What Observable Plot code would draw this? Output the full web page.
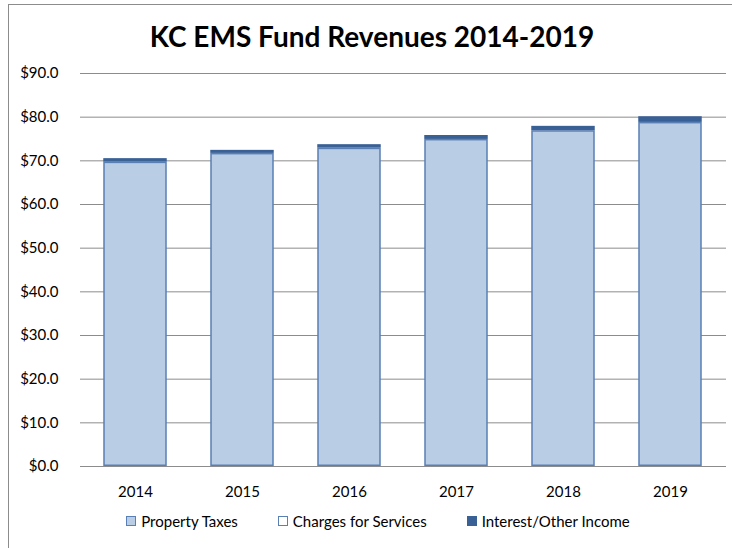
<!DOCTYPE html>
<html><head><meta charset="utf-8">
<script src="https://cdn.jsdelivr.net/npm/d3@7"></script>
<script src="https://cdn.jsdelivr.net/npm/@observablehq/plot@0.6"></script>
<style>
body{margin:0;background:#fff;font-family:Lato,"Open Sans",sans-serif;}
#wrap{position:relative;width:732px;height:548px;overflow:hidden;}
#frame{position:absolute;left:8px;top:4px;width:740px;height:600px;border:1px solid #8c8c8c;box-sizing:border-box;}
#title{position:absolute;left:0;top:19px;width:732px;text-align:center;font-weight:bold;font-size:28px;color:#000;margin-left:6px}
#chart{position:absolute;left:0;top:0;}
#legend{position:absolute;left:0;top:512px;width:732px;display:flex;justify-content:center;gap:40px;font-size:15px;color:#000;margin-left:12px}
#legend span.item{display:flex;align-items:center;gap:5px;}
#legend span.sw{display:inline-block;width:10px;height:10px;box-sizing:border-box;}
</style></head>
<body><div id="wrap"><div id="frame"></div><div id="chart"></div><div id="title">KC EMS Fund Revenues 2014-2019</div><div id="legend"></div></div>
<script>
const years = ["2014","2015","2016","2017","2018","2019"];
const propertyTaxes = [69.7, 71.7, 72.9, 74.9, 76.9, 78.8];
const chargesForServices = [0, 0, 0, 0, 0, 0];
const interestOther = [0.8, 0.7, 0.8, 0.9, 1.0, 1.3];
const seriesNames = ["Property Taxes", "Charges for Services", "Interest/Other Income"];
const seriesFill = ["#b9cde5", "#ffffff", "#3a6196"];
const seriesStroke = ["#5a7fb5", "#5a7fb5", "#3a6196"];
const yTicks = [0,10,20,30,40,50,60,70,80,90];

const data = [];
years.forEach((y,i)=>{
  data.push({year:y, series:seriesNames[0], value:propertyTaxes[i]});
  data.push({year:y, series:seriesNames[1], value:chargesForServices[i]});
  data.push({year:y, series:seriesNames[2], value:interestOther[i]});
});
const barData = data.filter(d=>d.value>0);

const chart = Plot.plot({
  width:732, height:500,
  marginTop:73, marginBottom:34, marginLeft:80, marginRight:6,
  style:{fontFamily:"Lato, 'Open Sans', sans-serif", fontSize:"15px", color:"#000", background:"transparent"},
  x:{domain:years, paddingInner:0.42, paddingOuter:0.21, label:null, tickSize:0, tickPadding:20},
  y:{domain:[0,90], ticks:yTicks, tickFormat:d3.format("$.1f"), label:null, tickSize:0, tickPadding:22},
  color:{domain:seriesNames, range:seriesFill},
  marks:[
    Plot.gridY(yTicks, {stroke:"#8c8c8c", strokeOpacity:1, strokeWidth:1}),
    Plot.barY(barData, Plot.stackY({x:"year", y:"value", fill:"series", order:seriesNames, stroke:d=>seriesStroke[seriesNames.indexOf(d.series)], strokeWidth:1.5, insetTop:0.75, insetBottom:0.75})),
    Plot.axisY({ticks:yTicks, tickFormat:d3.format("$.1f"), tickSize:0, tickPadding:22, fontSize:15}),
    Plot.axisX({tickSize:0, tickPadding:20, fontSize:15})
  ]
});
document.getElementById("chart").appendChild(chart);

const leg = document.getElementById("legend");
seriesNames.forEach((n,i)=>{
  const it = document.createElement("span"); it.className="item";
  const sw = document.createElement("span"); sw.className="sw";
  sw.style.background = seriesFill[i]; sw.style.border = "1px solid " + seriesStroke[i];
  it.appendChild(sw);
  const t = document.createElement("span"); t.textContent = n; it.appendChild(t);
  leg.appendChild(it);
});
</script></body></html>
